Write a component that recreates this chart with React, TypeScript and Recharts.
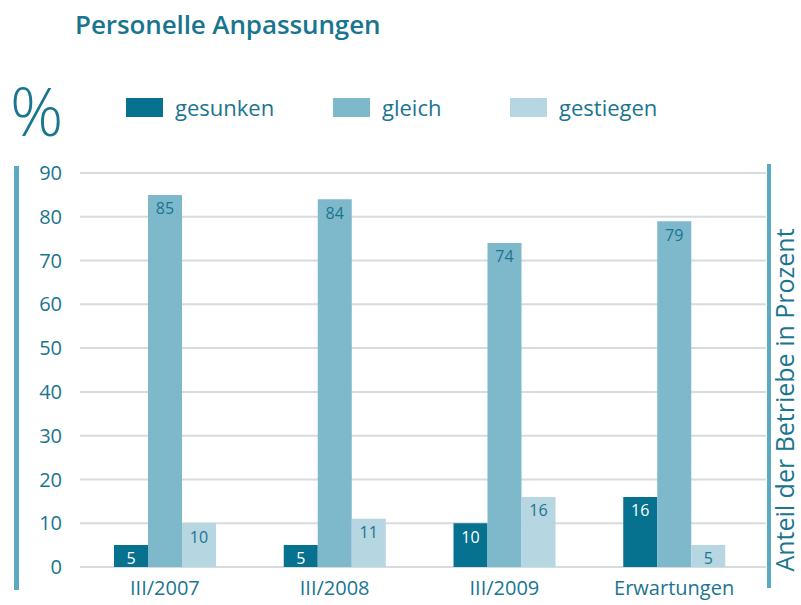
import React from 'react';
import { BarChart, Bar, XAxis, YAxis, CartesianGrid, Legend, LabelList } from 'recharts';

const categories = ['III/2007', 'III/2008', 'III/2009', 'Erwartungen'];
const gesunken = [5, 5, 10, 16];
const gleich = [85, 84, 74, 79];
const gestiegen = [10, 11, 16, 5];
const yTicks = [0, 10, 20, 30, 40, 50, 60, 70, 80, 90];

const seriesNames = ['gesunken', 'gleich', 'gestiegen'];

const TEAL = '#1a7590';
const DARK = '#06728f';
const MID = '#7db8cb';
const LIGHT = '#b6d6e2';
const SIDE = '#5ba9c3';
const FONT = '"Open Sans", "Noto Sans", sans-serif';
const LEGEND_ITEM_WIDTHS = [207, 177, 160];

const data = categories.map((name, i) => ({
    name,
    gesunken: gesunken[i],
    gleich: gleich[i],
    gestiegen: gestiegen[i],
}));

// keep legend in series order (recharts sorts by name otherwise)
const LegendContent = ({ payload }: any) => {
    const items = [...(payload || [])].sort(
        (a: any, b: any) => seriesNames.indexOf(a.value) - seriesNames.indexOf(b.value)
    );
    return (
        <div style={{ display: 'flex', alignItems: 'center', fontFamily: FONT, fontSize: 22, color: TEAL }}>
            {items.map((entry: any, i: number) => (
                <div key={entry.value} style={{ display: 'flex', alignItems: 'center', width: LEGEND_ITEM_WIDTHS[i] }}>
                    <span style={{ display: 'inline-block', width: 37, height: 19, background: entry.color, marginRight: 12 }} />
                    <span>{entry.value}</span>
                </div>
            ))}
        </div>
    );
};

export default function App() {
    return (
        <div style={{ position: 'absolute', left: 0, top: 0, width: 801, height: 605, background: '#fff', fontFamily: FONT }}>
            <div style={{ position: 'absolute', left: 75, top: 6, fontSize: 26, fontWeight: 600, color: TEAL, letterSpacing: -0.1 }}>
                Personelle Anpassungen
            </div>
            <div style={{ position: 'absolute', left: 10, top: 70, fontSize: 66, fontWeight: 300, color: TEAL, lineHeight: '80px' }}>
                %
            </div>
            <div style={{ position: 'absolute', left: 14, top: 166, width: 5, height: 424, background: SIDE }} />
            <div style={{ position: 'absolute', left: 767, top: 164, width: 4, height: 424, background: SIDE }} />
            <div
                style={{
                    position: 'absolute',
                    left: 783.5,
                    top: 400,
                    transform: 'translate(-50%, -50%) rotate(-90deg)',
                    whiteSpace: 'nowrap',
                    fontSize: 25,
                    lineHeight: '24px',
                    color: TEAL,
                }}
            >
                Anteil der Betriebe in Prozent
            </div>
            <BarChart
                width={801}
                height={605}
                data={data}
                margin={{ top: 173, right: 35, bottom: 8, left: 0 }}
                barGap={0}
                barSize={34}
                style={{ position: 'absolute', left: 0, top: 0 }}
            >
                <CartesianGrid vertical={false} stroke="#d6dbde" strokeWidth={2} />
                <XAxis
                    dataKey="name"
                    axisLine={false}
                    tickLine={false}
                    tickSize={0}
                    tickMargin={14}
                    height={30}
                    padding={{ left: 0, right: 7 }}
                    tick={{ fill: TEAL, fontSize: 20, fontFamily: FONT }}
                    interval={0}
                />
                <YAxis
                    domain={[0, 90]}
                    ticks={yTicks}
                    axisLine={false}
                    tickLine={false}
                    tickSize={0}
                    tickMargin={18}
                    width={80}
                    tick={{ fill: TEAL, fontSize: 20, fontFamily: FONT }}
                />
                <Legend
                    verticalAlign="middle"
                    align="center"
                    layout="horizontal"
                    content={<LegendContent />}
                    wrapperStyle={{ top: 92, left: 126, width: 620 }}
                />
                <Bar dataKey="gesunken" name={seriesNames[0]} fill={DARK} isAnimationActive={false}>
                    <LabelList dataKey="gesunken" position="insideTop" offset={8} fill="#ffffff" fontSize={16} fontFamily={FONT} />
                </Bar>
                <Bar dataKey="gleich" name={seriesNames[1]} fill={MID} isAnimationActive={false}>
                    <LabelList dataKey="gleich" position="insideTop" offset={8} fill={TEAL} fontSize={16} fontFamily={FONT} />
                </Bar>
                <Bar dataKey="gestiegen" name={seriesNames[2]} fill={LIGHT} isAnimationActive={false}>
                    <LabelList dataKey="gestiegen" position="insideTop" offset={8} fill={TEAL} fontSize={16} fontFamily={FONT} />
                </Bar>
            </BarChart>
        </div>
    );
}
